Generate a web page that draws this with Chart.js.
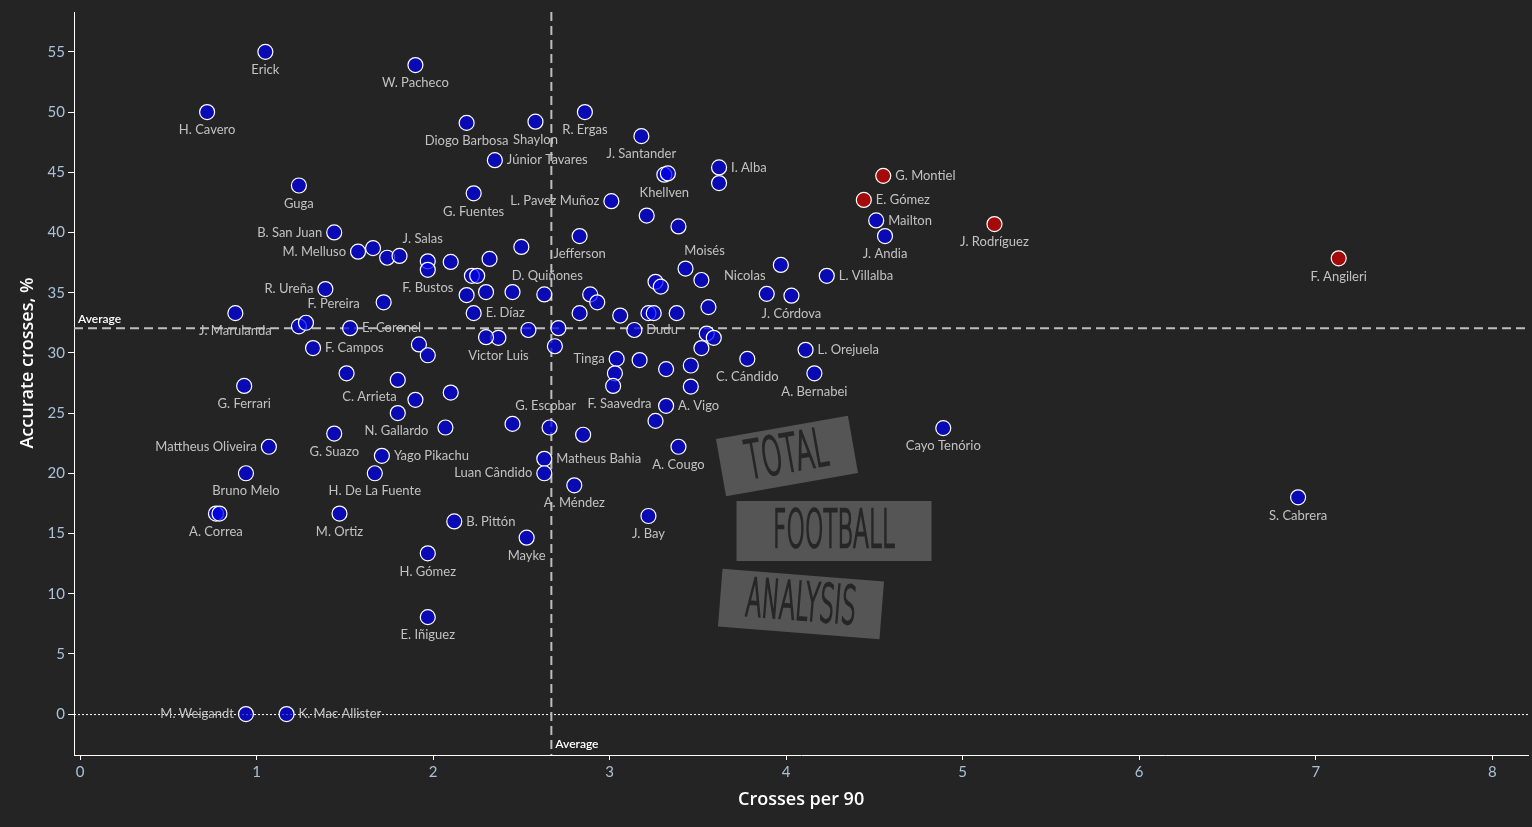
<!DOCTYPE html>
<html>
<head>
<meta charset="utf-8">
<script src="https://cdn.jsdelivr.net/npm/chart.js@4.4.1/dist/chart.umd.min.js"></script>
<style>
  html, body { margin: 0; padding: 0; background: #242424; overflow: hidden; }
  #wrap { width: 1532px; height: 827px; overflow: hidden; }
</style>
</head>
<body>
<div id="wrap"><canvas id="chart" width="1537" height="827"></canvas></div>
<script>
// player names ('' = point without a label)
const players = [
  'Erick', 'W. Pacheco', 'H. Cavero', 'Diogo Barbosa', 'Shaylon', 'R. Ergas', 'J. Santander',
  'Júnior Tavares', 'I. Alba', 'Khellven', 'G. Montiel', 'Guga', 'G. Fuentes', 'E. Gómez',
  'L. Pavez Muñoz', 'Mailton', 'J. Rodríguez', 'B. San Juan', 'J. Andia', 'Jefferson',
  'M. Melluso', 'J. Salas', 'F. Bustos', 'D. Quiñones', 'Moisés', 'L. Villalba', 'F. Angileri',
  'R. Ureña', 'Nicolas', 'J. Córdova', 'F. Pereira', 'J. Marulanda', 'E. Díaz', 'E. Coronel',
  'Dudu', 'Victor Luis', 'F. Campos', 'L. Orejuela', 'Tinga', 'C. Cándido', 'A. Bernabei',
  'G. Ferrari', 'C. Arrieta', 'G. Escobar', 'F. Saavedra', 'A. Vigo', 'N. Gallardo',
  'Cayo Tenório', 'G. Suazo', 'Mattheus Oliveira', 'A. Cougo', 'Yago Pikachu', 'Matheus Bahia',
  'Bruno Melo', 'H. De La Fuente', 'Luan Cândido', 'A. Méndez', 'S. Cabrera', 'A. Correa',
  'M. Ortiz', 'B. Pittón', 'J. Bay', 'Mayke', 'H. Gómez', 'E. Iñiguez', 'M. Weigandt',
  'K. Mac Allister',
  '', '', '', '', '', '', '', '', '', '',
  '', '', '', '', '', '', '', '', '', '',
  '', '', '', '', '', '', '', '', '', '',
  '', '', '', '', '', '', '', '', '', '',
  '', '', '', '', '', '', '', '', '', ''
];
const crossesPer90 = [
  1.05, 1.90, 0.72, 2.19, 2.58, 2.86, 3.18,
  2.35, 3.62, 3.31, 4.55, 1.24, 2.23, 4.44,
  3.01, 4.51, 5.18, 1.44, 4.56, 2.83,
  1.575, 1.97, 1.97, 2.63, 3.43, 4.23, 7.13,
  1.39, 3.89, 4.03, 1.72, 0.88, 2.23, 1.53,
  3.14, 2.37, 1.32, 4.11, 3.04, 3.78, 4.16,
  0.93, 1.90, 2.66, 3.26, 3.32, 2.07,
  4.89, 1.44, 1.07, 3.39, 1.71, 2.63,
  0.94, 1.67, 2.63, 2.80, 6.90, 0.77,
  1.47, 2.12, 3.22, 2.53, 1.97, 1.97, 0.94,
  1.17,
  3.33, 3.62, 3.21, 3.39, 2.50, 1.66, 1.74, 1.81, 2.10, 2.32,
  2.22, 2.25, 3.52, 3.97, 2.19, 2.30, 2.45, 2.89, 2.93, 3.26,
  3.29, 2.83, 3.06, 3.22, 3.25, 3.38, 3.56, 1.24, 1.28, 2.54,
  2.71, 3.55, 3.59, 2.30, 2.69, 1.92, 1.97, 3.52, 3.17, 3.03,
  3.32, 3.46, 1.51, 1.80, 3.02, 3.46, 2.10, 1.80, 2.45, 2.85,
  0.79
];
const accurateCrosses = [
  55.0, 53.9, 50.0, 49.1, 49.2, 50.0, 48.0,
  46.0, 45.4, 44.8, 44.7, 43.9, 43.25, 42.7,
  42.6, 41.0, 40.7, 40.0, 39.7, 39.7,
  38.4, 37.6, 36.9, 34.85, 37.0, 36.4, 37.85,
  35.3, 34.9, 34.75, 34.2, 33.3, 33.3, 32.05,
  31.9, 31.25, 30.4, 30.25, 29.5, 29.5, 28.3,
  27.25, 26.1, 23.8, 24.35, 25.6, 23.8,
  23.75, 23.3, 22.2, 22.2, 21.45, 21.2,
  20.0, 20.0, 20.0, 19.0, 18.0, 16.65,
  16.65, 16.0, 16.45, 14.65, 13.35, 8.05, 0,
  0,
  44.9, 44.1, 41.4, 40.5, 38.8, 38.7, 37.9, 38.05, 37.55, 37.8,
  36.4, 36.4, 36.05, 37.3, 34.8, 35.05, 35.05, 34.85, 34.2, 35.9,
  35.5, 33.3, 33.1, 33.3, 33.3, 33.3, 33.8, 32.2, 32.5, 31.9,
  32.05, 31.6, 31.25, 31.3, 30.55, 30.7, 29.8, 30.4, 29.4, 28.3,
  28.65, 28.95, 28.3, 27.75, 27.25, 27.2, 26.7, 25.0, 24.1, 23.2,
  16.65
];
const highlighted = ['G. Montiel', 'E. Gómez', 'J. Rodríguez', 'F. Angileri'];
const avgCrosses = 2.67;
const avgAccuracy = 32.05;
const xTickValues = [0, 1, 2, 3, 4, 5, 6, 7, 8];
const yTickValues = [0, 5, 10, 15, 20, 25, 30, 35, 40, 45, 50, 55];

// where each name goes: 'b' below (default), 'r' right, 'l' left, or [dx, dy] centre offset
const labelPlace = {
  'Júnior Tavares': 'r', 'I. Alba': 'r', 'G. Montiel': 'r', 'E. Gómez': 'r', 'Mailton': 'r',
  'L. Pavez Muñoz': 'l', 'B. San Juan': 'l', 'M. Melluso': 'l', 'R. Ureña': 'l',
  'J. Salas': [-5, -23], 'D. Quiñones': [3, -19], 'Moisés': [19, -18], 'Nicolas': [-22, -18],
  'L. Villalba': 'r', 'F. Pereira': [-50, 2], 'E. Díaz': 'r', 'E. Coronel': 'r', 'Dudu': 'r',
  'F. Campos': 'r', 'L. Orejuela': 'r', 'Tinga': 'l', 'C. Arrieta': [-46, -3],
  'G. Escobar': [-4, -22], 'F. Saavedra': [-36, -17], 'A. Vigo': 'r', 'N. Gallardo': [-49, 3],
  'Mattheus Oliveira': 'l', 'Yago Pikachu': 'r', 'Matheus Bahia': 'r', 'Luan Cândido': 'l',
  'B. Pittón': 'r', 'M. Weigandt': 'l', 'K. Mac Allister': 'r'
};

const points = crossesPer90.map((x, i) => ({ x: x, y: accurateCrosses[i] }));
const fills = players.map(n => highlighted.includes(n) ? 'rgba(215,0,0,0.72)' : 'rgba(0,0,235,0.72)');

const bgPlugin = {
  id: 'bg',
  beforeDraw(chart) {
    const ctx = chart.ctx;
    ctx.save();
    ctx.fillStyle = '#242424';
    ctx.fillRect(0, 0, chart.width, chart.height);
    ctx.restore();
  }
};

function drawBox(ctx, cx, cy, w, h, angle, text, size, stretch) {
  ctx.save();
  ctx.translate(cx, cy);
  ctx.rotate(angle * Math.PI / 180);
  ctx.fillStyle = '#555555';
  ctx.fillRect(-w / 2, -h / 2, w, h);
  ctx.scale(stretch, 1);
  ctx.strokeStyle = '#262626';
  ctx.lineWidth = 2.6;
  ctx.font = '200 ' + size + 'px "DejaVu Sans"';
  ctx.textAlign = 'center';
  ctx.textBaseline = 'middle';
  ctx.strokeText(text, 0, 2);
  ctx.restore();
}

const overlayPlugin = {
  id: 'overlay',
  beforeDatasetsDraw(chart) {
    const ctx = chart.ctx;
    const a = chart.chartArea;
    const xs = chart.scales.x, ys = chart.scales.y;

    // watermark
    drawBox(ctx, 787, 456, 134, 58, -10, 'TOTAL', 52, 0.5);
    drawBox(ctx, 834, 531, 195, 60, 0, 'FOOTBALL', 52, 0.45);
    drawBox(ctx, 801, 604, 162, 58, 4.5, 'ANALYSIS', 52, 0.45);

    ctx.save();
    // zero line
    const y0 = ys.getPixelForValue(0);
    ctx.strokeStyle = '#ffffff';
    ctx.lineWidth = 1;
    ctx.setLineDash([2, 2]);
    ctx.beginPath();
    ctx.moveTo(a.left, y0 + 0.5);
    ctx.lineTo(a.right, y0 + 0.5);
    ctx.stroke();

    // average lines
    ctx.strokeStyle = '#bdbdbd';
    ctx.lineWidth = 2;
    ctx.setLineDash([9, 5]);
    const ya = ys.getPixelForValue(avgAccuracy);
    ctx.beginPath();
    ctx.moveTo(a.left, ya);
    ctx.lineTo(a.right, ya);
    ctx.stroke();
    const xa = xs.getPixelForValue(avgCrosses);
    ctx.beginPath();
    ctx.moveTo(xa, a.top);
    ctx.lineTo(xa, a.bottom);
    ctx.stroke();
    ctx.setLineDash([]);

    ctx.fillStyle = '#ffffff';
    ctx.font = '600 12px Lato';
    ctx.textAlign = 'left';
    ctx.textBaseline = 'bottom';
    ctx.fillText('Average', a.left + 4, ya - 3);
    ctx.textBaseline = 'middle';
    ctx.fillText('Average', xa + 4, a.bottom - 11);
    ctx.restore();
  },
  afterDatasetsDraw(chart) {
    const ctx = chart.ctx;
    const meta = chart.getDatasetMeta(0);
    ctx.save();
    ctx.font = '13px Lato';
    ctx.fillStyle = '#c2c2c2';
    ctx.textBaseline = 'middle';
    meta.data.forEach((pt, i) => {
      const name = players[i];
      if (!name) return;
      const p = labelPlace[name] || 'b';
      let x = pt.x, y = pt.y, align = 'center';
      if (p === 'b') { y += 18; }
      else if (p === 'r') { x += 12; align = 'left'; }
      else if (p === 'l') { x -= 12; align = 'right'; }
      else { x += p[0]; y += p[1]; }
      ctx.textAlign = align;
      ctx.fillText(name, x, y);
    });

    // axis titles
    const a = chart.chartArea;
    ctx.fillStyle = '#ffffff';
    ctx.font = '600 18px "Open Sans"';
    ctx.textAlign = 'center';
    ctx.fillText('Crosses per 90', (a.left + a.right) / 2, 800);
    ctx.save();
    ctx.translate(28, 363);
    ctx.rotate(-Math.PI / 2);
    ctx.fillText('Accurate crosses, %', 0, 0);
    ctx.restore();
    ctx.restore();
  }
};

new Chart(document.getElementById('chart'), {
  type: 'scatter',
  data: {
    datasets: [{
      label: 'Players',
      data: points,
      backgroundColor: fills,
      borderColor: '#ffffff',
      borderWidth: 1.2,
      pointRadius: 7.5,
      pointHoverRadius: 7.5
    }]
  },
  options: {
    responsive: false,
    animation: false,
    events: [],
    layout: { padding: { top: 10, right: 0, left: 0, bottom: 0 } },
    plugins: {
      legend: { display: false },
      tooltip: { enabled: false },
      title: { display: false }
    },
    scales: {
      x: {
        type: 'linear',
        min: -0.034,
        max: 8.204,
        afterBuildTicks: s => { s.ticks = xTickValues.map(v => ({ value: v })); },
        afterFit: s => { s.height = 72; },
        grid: { drawOnChartArea: false, drawTicks: true, tickLength: 5, color: '#ffffff' },
        border: { display: true, color: '#ffffff', width: 1 },
        ticks: { color: '#a9c0d8', font: { family: 'Lato', size: 15 }, padding: 3 }
      },
      y: {
        type: 'linear',
        min: -3.4,
        max: 58.31,
        afterBuildTicks: s => { s.ticks = yTickValues.map(v => ({ value: v })); },
        afterFit: s => { s.width = 74; },
        grid: { drawOnChartArea: false, drawTicks: true, tickLength: 6, color: '#ffffff' },
        border: { display: true, color: '#ffffff', width: 1 },
        ticks: { color: '#a9c0d8', font: { family: 'Lato', size: 15 }, padding: 3 }
      }
    }
  },
  plugins: [bgPlugin, overlayPlugin]
});
</script>
</body>
</html>
